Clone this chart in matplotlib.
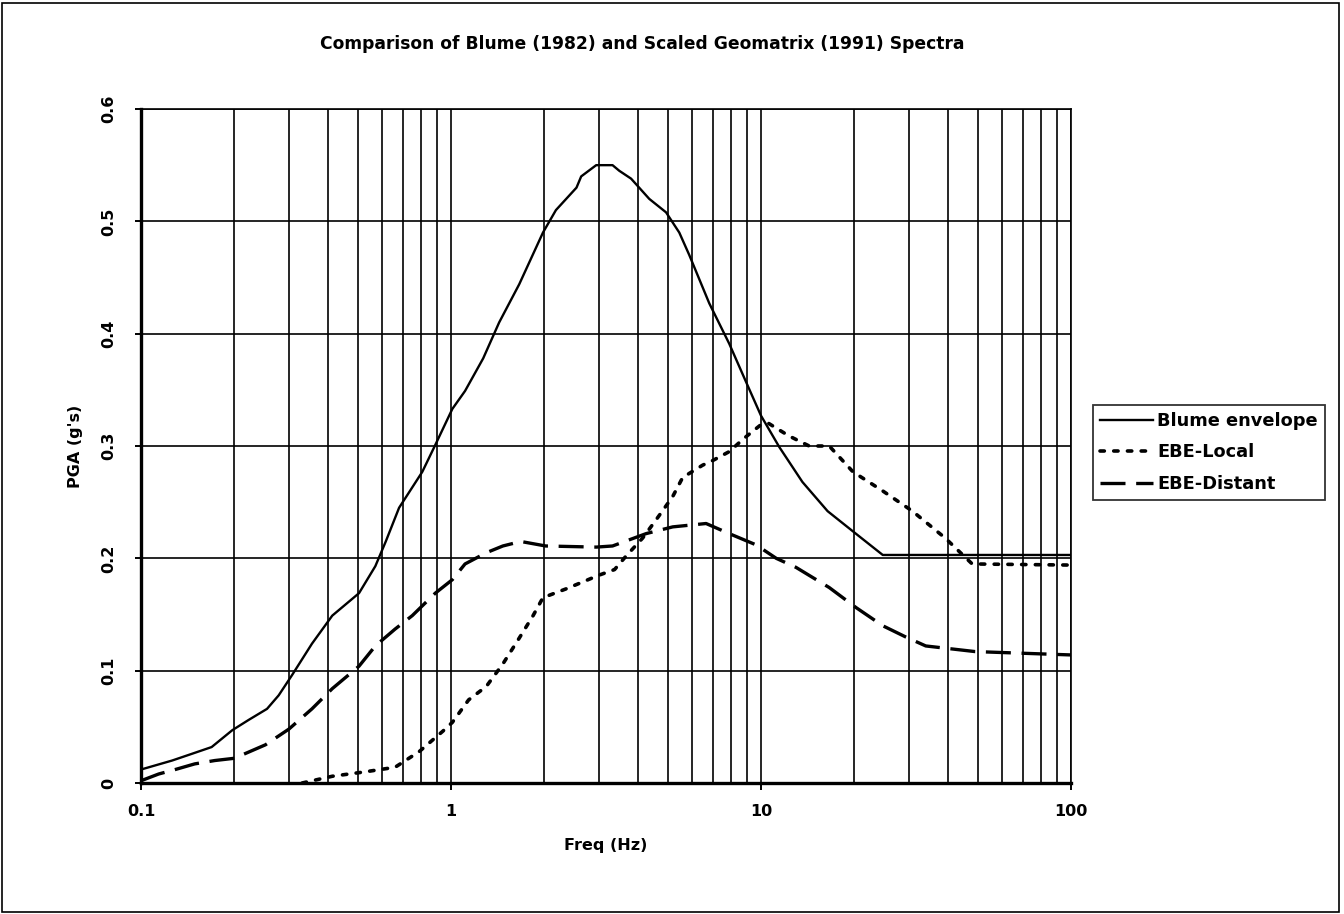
import matplotlib
matplotlib.use("Agg")
import matplotlib.pyplot as plt
from matplotlib.patches import Rectangle
from matplotlib.ticker import FixedLocator, NullFormatter

# ---- data ----
blume_f = [0.1, 0.126, 0.146, 0.169, 0.197, 0.222, 0.255, 0.278, 0.307, 0.356, 0.414, 0.505,
           0.57, 0.616, 0.68, 0.808, 0.89, 1.01, 1.11, 1.27, 1.43, 1.66, 1.98, 2.18, 2.54,
           2.63, 2.94, 3.32, 3.49, 3.81, 4.36, 4.94, 5.45, 5.87, 6.81, 7.9, 8.95, 10.0,
           11.46, 13.6, 16.4, 19.8, 24.7, 100.0]
blume_v = [0.012, 0.020, 0.026, 0.032, 0.047, 0.056, 0.066, 0.078, 0.096, 0.124, 0.149, 0.169,
           0.193, 0.215, 0.245, 0.277, 0.301, 0.333, 0.349, 0.378, 0.410, 0.444, 0.490, 0.510, 0.530,
           0.540, 0.550, 0.550, 0.545, 0.538, 0.520, 0.508, 0.490, 0.470, 0.427, 0.391, 0.357, 0.327,
           0.299, 0.268, 0.242, 0.224, 0.203, 0.203]

local_f = [0.331, 0.414, 0.53, 0.66, 0.79, 0.94, 1.01, 1.14, 1.30, 1.47, 1.66, 1.84, 1.98,
           2.36, 3.0, 3.37, 3.67, 4.15, 4.58, 5.19, 5.59, 6.49, 6.98, 7.9, 8.83, 10.0, 10.6,
           12.3, 14.3, 16.6, 19.8, 24.7, 30.8, 39.3, 48.0, 100.0]
local_v = [0.0, 0.006, 0.010, 0.014, 0.028, 0.046, 0.054, 0.074, 0.086, 0.106, 0.129, 0.149, 0.165,
           0.173, 0.185, 0.190, 0.202, 0.218, 0.234, 0.255, 0.272, 0.283, 0.287, 0.295, 0.307, 0.319,
           0.320, 0.309, 0.300, 0.300, 0.277, 0.260, 0.242, 0.218, 0.195, 0.194]

distant_f = [0.1, 0.114, 0.129, 0.149, 0.173, 0.2, 0.252, 0.3, 0.356, 0.414, 0.505, 0.57, 0.66,
             0.75, 0.89, 1.01, 1.11, 1.30, 1.47, 1.68, 2.02, 2.94, 3.32, 4.26, 5.19, 6.65, 7.9,
             9.64, 11.2, 12.96, 16.6, 20.3, 24.7, 29.3, 34.0, 49.0, 100.0]
distant_v = [0.002, 0.008, 0.012, 0.017, 0.020, 0.022, 0.034, 0.048, 0.066, 0.084, 0.104, 0.122, 0.137,
             0.149, 0.169, 0.181, 0.195, 0.205, 0.211, 0.215, 0.211, 0.210, 0.211, 0.222, 0.228, 0.231, 0.222,
             0.212, 0.200, 0.192, 0.174, 0.156, 0.140, 0.130, 0.122, 0.117, 0.114]

y_ticks = [0, 0.1, 0.2, 0.3, 0.4, 0.5, 0.6]
y_labels = ["0", "0.1", "0.2", "0.3", "0.4", "0.5", "0.6"]
x_ticks = [0.1, 1, 10, 100]
x_labels = ["0.1", "1", "10", "100"]

title = "Comparison of Blume (1982) and Scaled Geomatrix (1991) Spectra"
names = ["Blume envelope", "EBE-Local", "EBE-Distant"]

# ---- figure ----
plt.rcParams['font.family'] = ['DejaVu Sans']
fig = plt.figure(figsize=(13.44, 9.14), dpi=100)
ax = fig.add_axes([141/1344, 1-783/914, (1071-141)/1344, (783-109)/914])

ax.set_xscale('log')
ax.set_xlim(0.1, 100)
ax.set_ylim(0, 0.6)

ax.plot(blume_f, blume_v, color='black', lw=1.7, label=names[0], zorder=3)
ax.plot(local_f, local_v, color='black', lw=2.6, linestyle=(0, (1.2, 2.6)),
        dash_capstyle='round', label=names[1], zorder=3)
ax.plot(distant_f, distant_v, color='black', lw=2.4, linestyle=(0, (7.5, 3.2)),
        label=names[2], zorder=3)

# grid
minor = [m * 10.0**e for e in (-1, 0, 1) for m in range(2, 10)]
ax.xaxis.set_minor_locator(FixedLocator(minor))
ax.xaxis.set_minor_formatter(NullFormatter())
ax.set_xticks(x_ticks)
ax.set_xticklabels(x_labels, fontweight='bold', fontsize=11.5)
ax.set_yticks(y_ticks)
ax.set_yticklabels(y_labels, fontweight='bold', fontsize=11.5, rotation=90, va='center')
ax.grid(True, which='both', axis='x', color='black', lw=1.2)
ax.grid(True, which='major', axis='y', color='black', lw=1.2)
ax.tick_params(axis='x', which='minor', length=0)
ax.tick_params(axis='x', which='major', length=5, width=1.4, color='black', pad=10)
ax.tick_params(axis='y', which='major', length=4, width=1.4, color='black', pad=14)
ax.set_axisbelow(True)

for s in ['top', 'right']:
    ax.spines[s].set_linewidth(1.2)
for s in ['left', 'bottom']:
    ax.spines[s].set_linewidth(2.4)

ax.set_xlabel("Freq (Hz)", fontweight='bold', fontsize=11.5, labelpad=14)
ax.set_ylabel("PGA (g's)", fontweight='bold', fontsize=11.5, labelpad=13)
fig.text(642/1344, 1-44/914, title, ha='center', va='center', fontweight='bold', fontsize=12.3)

leg = fig.legend(loc='upper left', bbox_to_anchor=(1093/1344, 1-405/914),
                 frameon=True, fancybox=False, edgecolor='black',
                 prop={'weight': 'bold', 'size': 12.8}, handlelength=3.0, handletextpad=0.2,
                 borderpad=0.4, labelspacing=0.75, borderaxespad=0)
leg.get_frame().set_linewidth(1.3)

fig.patches.append(Rectangle((2/1344, 2/914), 1337/1344, 909/914, transform=fig.transFigure,
                             fill=False, edgecolor='black', lw=1.2))

fig.savefig("out.png", dpi=100)
